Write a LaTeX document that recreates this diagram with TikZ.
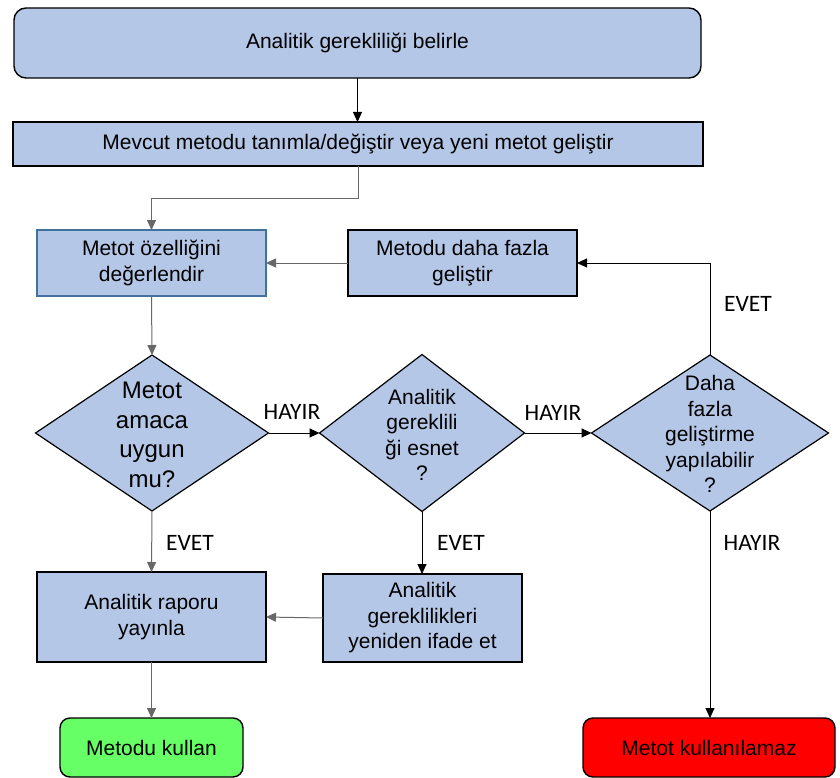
\documentclass[tikz,border=0pt]{standalone}
\usepackage{fontspec}
\setmainfont{Liberation Sans}
\newfontfamily\lblfont{Carlito}
\usetikzlibrary{shapes.geometric,arrows.meta}
\definecolor{boxblue}{HTML}{B4C7E7}
\definecolor{okgreen}{HTML}{66FF66}
\definecolor{badred}{HTML}{FF0000}
\definecolor{edgeblue}{HTML}{41719C}
\definecolor{linegray}{HTML}{686868}
\begin{document}
\begin{tikzpicture}[x=1pt,y=-1pt,
  base/.style={fill=boxblue,draw=black,line width=1.4pt,inner sep=0pt,outer sep=0pt,align=center,
    font=\fontsize{21}{25.5}\selectfont},
  rbox/.style={base,rectangle},
  rounded/.style={base,rectangle,rounded corners=12pt},
  dia/.style={base,diamond,line width=1.2pt},
  dtxt/.style={align=center,inner sep=0pt,font=\fontsize{21}{25.5}\selectfont},
  conn/.style={line width=1pt,draw=black,-{Triangle[length=10pt,width=9pt]}},
  gconn/.style={conn,draw=linegray},
  lbl/.style={font=\lblfont\fontsize{23.5}{27}\selectfont,inner sep=0pt}
]
\useasboundingbox (0,0) rectangle (840,778);

\node[rounded,minimum width=687pt,minimum height=70pt] (top) at (357.5,43) {Analitik gerekliliği belirle};
\node[rbox,minimum width=690pt,minimum height=44pt] (def) at (358,144) {Mevcut metodu tanımla/değiştir veya yeni metot geliştir};
\node[rbox,draw=edgeblue,minimum width=229pt,minimum height=66pt] (eval) at (151.5,263) {Metot özelliğini\\değerlendir};
\node[rbox,minimum width=229pt,minimum height=66pt] (dev) at (462.5,263) {Metodu daha fazla\\geliştir};

\node[dia,minimum width=233pt,minimum height=156pt] (d1) at (152,433) {};
\node[dtxt,font=\fontsize{24}{29.5}\selectfont] (t1) at (152,435) {Metot\\amaca\\uygun\\mu?};
\node[dia,minimum width=205pt,minimum height=157pt] (d2) at (422,433) {};
\node[dtxt] (t2) at (422,435) {Analitik\\gereklili\\ği esnet\\?};
\node[dia,minimum width=237pt,minimum height=156pt] (d3) at (710,433) {};
\node[dtxt] (t3) at (710,434) {Daha\\fazla\\geliştirme\\yapılabilir\\?};

\node[rbox,minimum width=229pt,minimum height=90pt] (rep) at (151.5,617) {Analitik raporu\\yayınla};
\node[rbox,minimum width=199pt,minimum height=88pt] (restate) at (422.5,618) {Analitik\\gereklilikleri\\yeniden ifade et};

\node[rounded,fill=okgreen,minimum width=183pt,minimum height=59pt,rounded corners=10pt] (use) at (151.5,747.5) {Metodu kullan};
\node[rounded,fill=badred,minimum width=252pt,minimum height=59pt,rounded corners=10pt] (nouse) at (709,747.5) {Metot kullanılamaz};

\coordinate (bend) at (358,199);

\draw[conn] (top.south) -- (top.south |- def.north);
\draw[line width=1pt,draw=linegray] (def.south) -- (bend);
\draw[gconn] (bend) -| (eval.north);
\draw[gconn] (dev.west) -- (eval.east);
\draw[conn] (d3.north) |- (dev.east);
\draw[gconn] (eval.south) -- (d1.north);
\draw[conn] (d1.east) -- (d2.west);
\draw[conn] (d2.east) -- (d3.west);
\draw[gconn] (d1.south) -- (rep.north);
\draw[conn] (d2.south) -- (d2.south |- restate.north);
\draw[conn] (d3.south) -- (d3.south |- nouse.north);
\draw[gconn] (restate.west) -- (rep.east);
\draw[gconn] (rep.south) -- (use.north);

\node[lbl] (l1) at (292,412) {HAYIR};
\node[lbl] (l2) at (553,413) {HAYIR};
\node[lbl] (l3) at (748,304) {EVET};
\node[lbl] (l4) at (190,543) {EVET};
\node[lbl] (l5) at (461,543) {EVET};
\node[lbl] (l6) at (752,543) {HAYIR};
\end{tikzpicture}
\end{document}
